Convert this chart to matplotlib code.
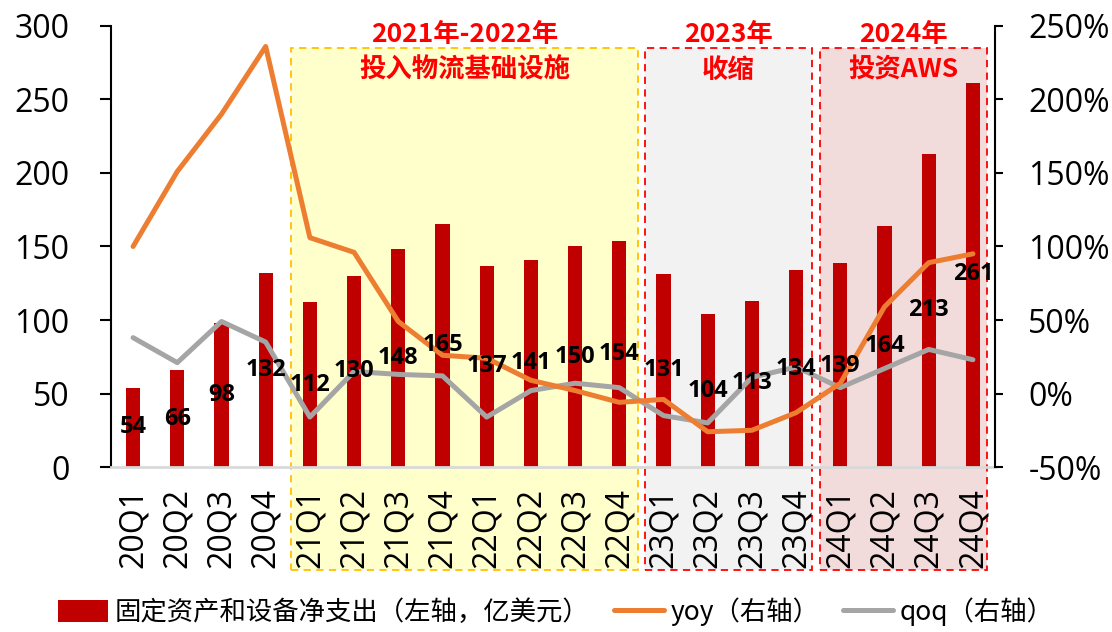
import matplotlib
matplotlib.use('Agg')
import matplotlib.pyplot as plt
from matplotlib.patches import Rectangle
from matplotlib.ticker import FuncFormatter

plt.rcParams['font.family'] = ['Noto Sans CJK SC', 'DejaVu Sans']

quarters = ['20Q1', '20Q2', '20Q3', '20Q4', '21Q1', '21Q2', '21Q3', '21Q4',
            '22Q1', '22Q2', '22Q3', '22Q4', '23Q1', '23Q2', '23Q3', '23Q4',
            '24Q1', '24Q2', '24Q3', '24Q4']
capex = [54, 66, 98, 132, 112, 130, 148, 165, 137, 141, 150, 154,
         131, 104, 113, 134, 139, 164, 213, 261]
yoy = [100, 151, 190, 236, 106, 96, 49, 26, 24, 9, 2, -6,
       -4, -26, -25, -13, 7, 59, 89, 95]
qoq = [38, 21, 49, 35, -16, 15, 13, 12, -16, 2, 7, 4,
       -15, -20, 11, 18, 4, 17, 30, 23]

# where each value label sits (left-axis units)
label_y = [27, 33, 49, 66, 56, 65, 74, 83, 69, 71, 75, 77,
           66, 52, 57, 67, 69, 82, 107, 131]

red = '#C00000'
orange = '#ED7D31'
gray = '#A5A5A5'
tickfont = ['Open Sans', 'DejaVu Sans']

fig = plt.figure(figsize=(11.12, 6.32), dpi=100)
ax = fig.add_axes([0.0998, 0.261, 0.795, 0.698])
ax2 = ax.twinx()

x = list(range(len(quarters)))

# shaded periods
boxes = [(3.57, 11.43, '#FFFFCC', '#FFC000'),
         (11.58, 15.36, '#F2F2F2', '#FF0000'),
         (15.54, 19.32, '#F2DCDB', '#FF0000')]
for x0, x1, fc, ec in boxes:
    r = Rectangle((x0, -70), x1 - x0, 355, facecolor=fc, edgecolor=ec,
                  linestyle=(0, (4, 3)), linewidth=1.3, clip_on=False, zorder=0)
    ax.add_patch(r)

ax.bar(x, capex, width=0.32, color=red, zorder=2, label='固定资产和设备净支出（左轴，亿美元）')

ax2.plot(x, yoy, color=orange, linewidth=3.6, zorder=4, label='yoy（右轴）', solid_capstyle='round')
ax2.plot(x, qoq, color=gray, linewidth=3.6, zorder=3, label='qoq（右轴）', solid_capstyle='round')

# value labels drawn on top of the lines
for i, v in enumerate(capex):
    ax2.text(i, label_y[i], str(v), transform=ax.transData, ha='center', va='center',
             fontsize=17, fontweight='bold', color='black', zorder=6, family=tickfont)

ax.set_xlim(-0.5, 19.5)
ax.set_ylim(0, 300)
ax.set_yticks(range(0, 301, 50))
ax2.set_ylim(-50, 250)
ax2.set_yticks(range(-50, 251, 50))
ax2.yaxis.set_major_formatter(FuncFormatter(lambda v, p: f'{v:.0f}%'))

ax.set_xticks(x)
ax.set_xticklabels(quarters, rotation=90, fontsize=23, family=tickfont)
for lab in ax.get_yticklabels():
    lab.set_family(tickfont)
for lab in ax2.get_yticklabels():
    lab.set_family(tickfont)
ax.tick_params(axis='x', length=0, pad=15)
ax.tick_params(axis='y', labelsize=23, length=8, width=1.5, direction='out', pad=22)
ax2.tick_params(axis='y', labelsize=23, length=6, width=1.5, direction='out', pad=18)

ax.patch.set_visible(False)
ax.spines['top'].set_visible(False)
ax2.spines['top'].set_visible(False)
ax.spines['bottom'].set_color('#D9D9D9')
ax.spines['bottom'].set_linewidth(2)
ax2.spines['bottom'].set_visible(False)
ax.spines['left'].set_linewidth(1.5)
ax2.spines['right'].set_linewidth(1.5)
ax.spines['right'].set_visible(False)
ax2.spines['left'].set_visible(False)

# period titles
titles = [(7.5, '2021年-2022年', '投入物流基础设施'),
          (13.47, '2023年', '收缩'),
          (17.43, '2024年', '投资AWS')]
for cx, t1, t2 in titles:
    ax2.text(cx, 294, t1, transform=ax.transData, ha='center', va='center',
             fontsize=19, fontweight='bold', color='#FF0000', zorder=7)
    ax2.text(cx, 270, t2, transform=ax.transData, ha='center', va='center',
             fontsize=19, fontweight='bold', color='#FF0000', zorder=7)

h1, l1 = ax.get_legend_handles_labels()
h2, l2 = ax2.get_legend_handles_labels()
fig.legend(h1 + h2, l1 + l2, loc='center', bbox_to_anchor=(0.5, 0.032), ncol=3,
           frameon=False, fontsize=19, handlelength=1.9, handleheight=0.9,
           handletextpad=0.25, columnspacing=0.9)

fig.savefig('out.png', dpi=100)
